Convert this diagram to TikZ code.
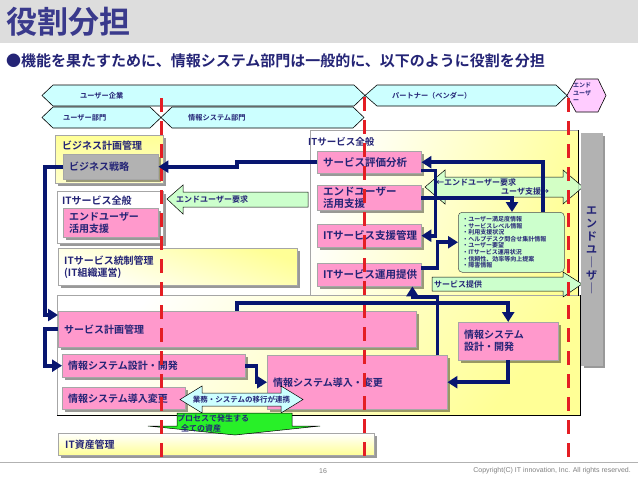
\documentclass[tikz,border=0pt]{standalone}
\usepackage{fontspec}
\setmainfont{Noto Sans CJK JP Bold}
\newfontfamily\latf{Liberation Sans}
\usetikzlibrary{arrows.meta,calc,shadows}
\definecolor{navyT}{RGB}{36,36,118}
\definecolor{navyA}{RGB}{8,22,112}
\definecolor{titleC}{RGB}{58,58,140}
\definecolor{pinkB}{RGB}{255,153,204}
\definecolor{yel}{RGB}{255,255,150}
\definecolor{lgreen}{RGB}{204,255,204}
\definecolor{lcyan}{RGB}{204,255,255}
\definecolor{lmag}{RGB}{255,204,255}
\definecolor{redL}{RGB}{228,30,36}
\definecolor{grayB}{RGB}{178,178,178}
\definecolor{hdr}{RGB}{221,221,221}
\definecolor{bgreen}{RGB}{40,240,40}
\newcommand\fsz[2]{\fontsize{#1}{#2}\selectfont}
\begin{document}
\begin{tikzpicture}[x=1pt,y=-1pt,
  shd/.style={drop shadow={shadow xshift=2.5pt,shadow yshift=-2.5pt,fill=black,opacity=0.4}},
  pinkbox/.style={shd,draw=gray!70,line width=0.4pt,fill=pinkB,anchor=north west,inner xsep=6pt,inner ysep=0pt,align=left,text=navyT,font=\fsz{10}{12}},
  graybox/.style={pinkbox,fill=grayB},
  outerbox/.style={shd,draw=gray!70,line width=0.5pt,anchor=north west,inner sep=0pt},
  bigbox/.style={draw=gray!70,line width=0.5pt,anchor=north west,inner sep=0pt},
  lbl/.style={anchor=west,inner sep=0pt,text=navyT,font=\fsz{10}{12}},
  small/.style={anchor=west,inner sep=0pt,text=navyT,font=\fsz{7.2}{8}},
  arrtxt/.style={anchor=west,inner sep=0pt,text=navyT,font=\fsz{8}{9}},
  hexs/.style={draw=black,line width=0.6pt,fill=lcyan},
  shapearr/.style={draw=black,line width=0.5pt},
  navyarr/.style={draw=navyA,line width=3.6pt,-{Triangle[width=12pt,length=10pt]}},
  reddash/.style={draw=redL,line width=3pt,dash pattern=on 14pt off 9pt},
]
\useasboundingbox (0,0) rectangle (638,479);
\fill[white] (0,0) rectangle (638,479);
% header
\fill[hdr] (0,0) rectangle (638,43);
\node[anchor=west,inner sep=0pt,text=titleC,font=\fsz{31}{31}] (title) at (6,22) {役割分担};
\node[anchor=west,inner sep=0pt,text=navyT,font=\fsz{15}{15}] (bullet) at (6,61) {●機能を果たすために、情報システム部門は一般的に、以下のように役割を分担};
% hexagons
\draw[hexs] (42,95.5) -- (53,85) -- (354,85) -- (365,95.5) -- (354,106) -- (53,106) -- cycle;
\node[small] (hUC) at (80,96) {ユーザー企業};
\draw[hexs] (365,95.5) -- (377,85) -- (556,85) -- (567,95.5) -- (556,106) -- (377,106) -- cycle;
\node[small] (hPV) at (392,96) {パートナー（ベンダー）};
\draw[hexs,fill=lmag] (567,95.5) -- (576,79) -- (598,79) -- (606,95.5) -- (598,112) -- (576,112) -- cycle;
\node[anchor=north west,inner sep=0pt,text=navyT,font=\fsz{6}{7.5},align=left] (hEU) at (573,83) {エンド\\ユーザ\\ー};
\draw[hexs] (42,117.5) -- (53,107) -- (150,107) -- (161,117.5) -- (150,128) -- (53,128) -- cycle;
\node[small] (hUD) at (63,118) {ユーザー部門};
\draw[hexs] (161,117.5) -- (172,107) -- (353,107) -- (364,117.5) -- (353,128) -- (172,128) -- cycle;
\node[small] (hIS) at (188,118) {情報システム部門};
% big boxes
\node[bigbox,minimum width=268pt,minimum height=165pt,top color=white,bottom color=yel,shading angle=70] (itsvc) at (310,130) {};
\node[bigbox,minimum width=523pt,minimum height=120pt,top color=white,bottom color=yel,shading angle=50] (lower) at (57,295) {};
\draw[black,line width=1pt] (itsvc.north east) -- (itsvc.south east);
\draw[black,line width=1.2pt] (lower.north east) -- (lower.south east) -- (lower.south west);
\node[lbl,font=\fsz{9.5}{11}] (itsvcL) at (308,142) {ITサービス全般};
% left boxes
\node[outerbox,minimum width=108pt,minimum height=48pt,top color=yel,bottom color=yel!50] (bizplan) at (55,135) {};
\node[lbl] (bizplanL) at (62,146) {ビジネス計画管理};
\node[graybox,minimum width=95pt,minimum height=25pt,text width=83pt] (bizstrat) at (63,154) {ビジネス戦略};
\node[outerbox,fill=white,minimum width=106pt,minimum height=52pt] (itgen) at (57,191) {};
\node[lbl] (itgenL) at (62,201) {ITサービス全般};
\node[pinkbox,minimum width=95pt,minimum height=29pt,text width=83pt] (eus1) at (63,208) {エンドユーザー\\活用支援};
\node[outerbox,minimum width=239pt,minimum height=37pt,top color=yel,bottom color=white,shading angle=-20] (itgov) at (58,248) {};
\node[lbl,align=left,anchor=north west] (itgovL) at (64,256) {ITサービス統制管理\\(IT組織運営)};
\node[outerbox,minimum width=316pt,minimum height=22pt,top color=white,bottom color=yel] (itasset) at (58,433) {};
\node[lbl] (itassetL) at (65,445) {IT資産管理};
% right pink boxes
\node[pinkbox,minimum width=104pt,minimum height=22pt,text width=92pt,font=\fsz{10.5}{12}] (eval) at (317,151) {サービス評価分析};
\node[pinkbox,minimum width=104pt,minimum height=25pt,text width=92pt,font=\fsz{10.5}{12}] (eus2) at (317,185) {エンドユーザー\\活用支援};
\node[pinkbox,minimum width=104pt,minimum height=23pt,text width=92pt,font=\fsz{10.5}{12}] (itsup) at (317,224) {ITサービス支援管理};
\node[pinkbox,minimum width=104pt,minimum height=23pt,text width=92pt,font=\fsz{10.5}{12}] (ops) at (317,263) {ITサービス運用提供};
% lower pink boxes
\node[pinkbox,minimum width=358pt,minimum height=36pt,text width=346pt] (svcplan) at (58,311) {サービス計画管理};
\node[pinkbox,minimum width=183pt,minimum height=23pt,text width=171pt] (sysdev) at (62,354) {情報システム設計・開発};
\node[pinkbox,minimum width=123pt,minimum height=22pt,text width=111pt] (sysinst1) at (62,387) {情報システム導入変更};
\node[pinkbox,minimum width=180pt,minimum height=54pt,text width=168pt] (sysinst) at (267,355) {情報システム導入・変更};
\node[pinkbox,minimum width=100pt,minimum height=38pt,text width=88pt] (sysdev2) at (458,322) {情報システム\\設計・開発};
% list box
\node[draw=black!70,line width=0.5pt,fill=lgreen,rounded corners=4pt,anchor=north west,minimum width=106pt,minimum height=60pt,inner xsep=4pt,inner ysep=0pt,text width=98pt,align=left,text=navyT,font=\fsz{6}{6.6}] (list) at (458,212) {・ユーザー満足度情報\\・サービスレベル情報\\・利用支援状況\\・ヘルプデスク問合せ集計情報\\・ユーザー要望\\・ITサービス運用状況\\・信頼性、効率等向上提案\\・障害情報};
% shape arrows
\draw[shapearr,fill=lgreen] (167,199) -- (183,185) -- (183,192) -- (308,192) -- (308,207) -- (183,207) -- (183,214) -- cycle;
\node[arrtxt] (eureq) at (176,199.5) {エンドユーザー要求};
\draw[shapearr,fill=lgreen,fill opacity=0.85] (425,187) -- (445,170) -- (445,177) -- (563,177) -- (563,170) -- (583,187) -- (563,204) -- (563,197) -- (445,197) -- (445,204) -- cycle;
\node[arrtxt] (eureq2) at (436,182.5) {←エンドユーザー要求};
\node[arrtxt] (eusup) at (501,191.5) {ユーザ支援→};
\draw[shapearr,fill=lgreen] (432,277) -- (563,277) -- (563,272) -- (582,284) -- (563,297) -- (563,291) -- (432,291) -- cycle;
\node[arrtxt] (svcprov) at (434,284) {サービス提供};
\draw[shapearr,fill=lcyan] (180,399.5) -- (202,386) -- (202,393) -- (281,393) -- (281,386) -- (303,399.5) -- (281,413) -- (281,406) -- (202,406) -- (202,413) -- cycle;
\node[anchor=center,inner sep=0pt,text=navyT,font=\fsz{7.5}{8}] (migr) at (241.5,400) {業務・システムの移行が連携};
\draw[shapearr,fill=bgreen] (177,413) -- (292,413) -- (292,426) -- (320,426) -- (235,435) -- (148,426) -- (177,426) -- cycle;
\node[arrtxt] (proc1) at (177,418.5) {プロセスで発生する};
\node[arrtxt] (proc2) at (181,428.5) {全ての資産};
% end user box
\node[shd,draw=gray!60,fill=grayB,anchor=north west,minimum width=21pt,minimum height=232pt,inner sep=0pt] (eubox) at (581,133) {};
\node[align=center,inner sep=0pt,text=navyT,font=\fsz{11}{13}] (eutext) at (591.5,250) {エ\\ン\\ド\\ユ\\｜\\ザ\\｜};
% red dashed lines
\coordinate (r1t) at (161.5,98); \coordinate (r1b) at (161.5,460);
\coordinate (r2t) at (364.5,97); \coordinate (r2b) at (364.5,460);
\coordinate (r3t) at (568,98); \coordinate (r3b) at (568,460);
\draw[reddash] (r1t) -- (r1b);
\draw[reddash] (r2t) -- (r2b);
\draw[reddash] (r3t) -- (r3b);
% navy connectors
\draw[navyarr] (eval.west) -- ++(-80,0) |- (bizstrat.east);
\draw[navyarr] (bizstrat.west) -- ++(-18,0) |- ($(svcplan.north west)+(0,4)$);
\draw[navyarr] (svcplan.west) -- ++(-13,0) |- (sysdev.west);
\draw[navyarr] (sysdev.east) -- ++(11,0) |- (sysinst.west);
\draw[navyarr] ($(svcplan.north west)+(179,0)$) -- ++(0,-8) -| (sysdev2.north);
\draw[navyarr] (sysdev2.south) |- (sysinst.east);
\draw[navyarr] ($(sysinst.north east)+(-10,0)$) -- ++(0,-58) -| ($(ops.south east)+(-9,0)$);
\draw[navyarr] ($(eval.south east)+(0,-3)$) -- ++(14,0) |- (itsup.east);
\draw[navyarr] ($(list.north west)+(85,0)$) |- (eval.east);
\draw[navyarr] (eus2.east) -| ($(list.north west)+(54,0)$);
\draw[navyarr] ($(ops.east)+(0,-7)$) -- ++(16,0) |- (list.west);
% footer
\draw[gray!60,line width=0.6pt] (0,462) -- (638,462);
\node[anchor=center,inner sep=0pt,text=gray,font=\latf\fsz{7}{8}] (pg) at (323,471) {16};
\node[anchor=east,inner sep=0pt,text=gray,font=\latf\fsz{7}{8}] (copy) at (631,471) {Copyright(C) IT innovation, Inc. All rights reserved.};
\end{tikzpicture}
\end{document}
